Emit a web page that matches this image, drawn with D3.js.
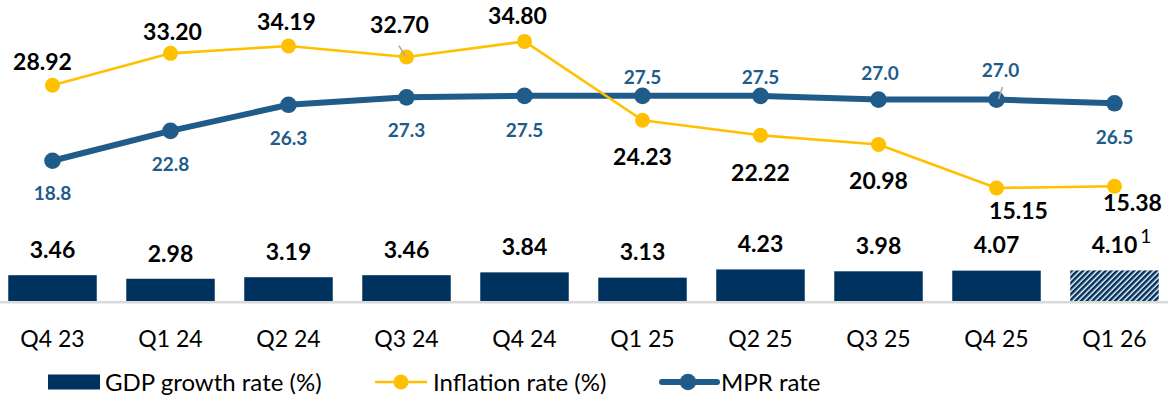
<!DOCTYPE html>
<html>
<head>
<meta charset="utf-8">
<script src="https://cdn.jsdelivr.net/npm/d3@7"></script>
<style>
  html, body { margin: 0; padding: 0; background: #ffffff; }
  svg { display: block; font-family: Lato, "Open Sans", sans-serif; }
</style>
</head>
<body>
<svg id="chart" width="1168" height="400"></svg>
<script>
// Quarterly data
const quarters = ["Q4 23", "Q1 24", "Q2 24", "Q3 24", "Q4 24", "Q1 25", "Q2 25", "Q3 25", "Q4 25", "Q1 26"];
const gdpGrowth = [3.46, 2.98, 3.19, 3.46, 3.84, 3.13, 4.23, 3.98, 4.07, 4.10];
const gdpLabels = ["3.46", "2.98", "3.19", "3.46", "3.84", "3.13", "4.23", "3.98", "4.07", "4.10"];
const gdpProjected = [false, false, false, false, false, false, false, false, false, true];
const gdpFootnote = ["", "", "", "", "", "", "", "", "", "1"];
const inflation = [28.92, 33.20, 34.19, 32.70, 34.80, 24.23, 22.22, 20.98, 15.15, 15.38];
const inflationLabels = ["28.92", "33.20", "34.19", "32.70", "34.80", "24.23", "22.22", "20.98", "15.15", "15.38"];
const mpr = [18.8, 22.8, 26.3, 27.3, 27.5, 27.5, 27.5, 27.0, 27.0, 26.5];
const mprLabels = ["18.8", "22.8", "26.3", "27.3", "27.5", "27.5", "27.5", "27.0", "27.0", "26.5"];
const legendNames = ["GDP growth rate (%)", "Inflation rate (%)", "MPR rate"];

// Label placement (offset of label centre from its point) and leader lines
const inflationLabelOffset = [[-10, -24], [2, -22], [-2, -24], [-7, -32], [-7, -26], [0, 36], [0, 37], [0, 36], [22, 23], [18, 16]];
const mprLabelOffset = [[0, 32], [0, 33], [0, 33], [0, 33], [0, 34], [0, -19], [0, -19], [1.5, -26.5], [4, -29], [0, 33.5]];
const inflationLeader = [false, false, false, true, false, false, false, false, false, false];
const mprLeader = [false, false, false, false, false, false, false, false, true, false];

const colors = { bar: "#00325f", infl: "#ffc000", mpr: "#1f5c8a", axis: "#d9d9d9", text: "#000000", leader: "#a6a6a6" };

const svg = d3.select("#chart");

const x = d3.scaleBand().domain(quarters).range([-6.5, 1173.5]).paddingInner(0.25).paddingOuter(0.125);
const cx = d => x(d) + x.bandwidth() / 2;
const y = d3.scaleLinear().domain([0, 40]).range([301, 2.6]);

// hatch pattern for the projected quarter
const defs = svg.append("defs");
const pat = defs.append("pattern")
  .attr("id", "hatch")
  .attr("patternUnits", "userSpaceOnUse")
  .attr("width", 4).attr("height", 4)
  .attr("patternTransform", "rotate(45)");
pat.append("rect").attr("width", 4).attr("height", 4).attr("fill", "#ffffff");
pat.append("rect").attr("x", 0).attr("y", 0).attr("width", 2.6).attr("height", 4).attr("fill", colors.bar);

// baseline
svg.append("line")
  .attr("x1", 0).attr("x2", 1168)
  .attr("y1", y(0) + 1.2).attr("y2", y(0) + 1.2)
  .attr("stroke", colors.axis).attr("stroke-width", 2.5);

// GDP bars
svg.append("g").selectAll("rect").data(quarters).join("rect")
  .attr("x", d => x(d))
  .attr("width", x.bandwidth())
  .attr("y", (d, i) => y(gdpGrowth[i]))
  .attr("height", (d, i) => y(0) - y(gdpGrowth[i]))
  .attr("fill", (d, i) => gdpProjected[i] ? "url(#hatch)" : colors.bar);

// GDP value labels
const gdpText = svg.append("g").selectAll("text").data(quarters).join("text")
  .attr("x", d => cx(d))
  .attr("y", (d, i) => y(gdpGrowth[i]) - 25.5)
  .attr("dy", "0.36em")
  .attr("text-anchor", "middle")
  .attr("font-size", 23).attr("font-weight", 700).attr("fill", colors.text)
  .text((d, i) => gdpLabels[i]);

// footnote markers after a value label
gdpText.each(function (d, i) {
  if (!gdpFootnote[i]) return;
  const w = this.getComputedTextLength();
  svg.append("text")
    .attr("x", cx(d) + w / 2 + 3)
    .attr("y", y(gdpGrowth[i]) - 25.5 - 9)
    .attr("dy", "0.36em")
    .attr("font-size", 19).attr("font-weight", 400).attr("fill", colors.text)
    .text(gdpFootnote[i]);
});

// x-axis labels
const xAxis = d3.axisBottom(x).tickSize(0).tickPadding(0);
const gx = svg.append("g").attr("transform", `translate(0,${y(0)})`).call(xAxis);
gx.select(".domain").remove();
gx.selectAll("text")
  .attr("font-family", "Lato, sans-serif")
  .attr("font-size", 23).attr("fill", "#000")
  .attr("y", 37.5).attr("dy", "0.36em");

// MPR line
const mprLine = d3.line().x((d, i) => cx(quarters[i])).y(d => y(d));
svg.append("path").datum(mpr)
  .attr("d", mprLine).attr("fill", "none")
  .attr("stroke", colors.mpr).attr("stroke-width", 6).attr("stroke-linejoin", "round");
svg.append("g").selectAll("circle").data(mpr).join("circle")
  .attr("cx", (d, i) => cx(quarters[i])).attr("cy", d => y(d)).attr("r", 8.3)
  .attr("fill", colors.mpr);

// Inflation line
const inflLine = d3.line().x((d, i) => cx(quarters[i])).y(d => y(d));
svg.append("path").datum(inflation)
  .attr("d", inflLine).attr("fill", "none")
  .attr("stroke", colors.infl).attr("stroke-width", 2.6).attr("stroke-linejoin", "round");
svg.append("g").selectAll("circle").data(inflation).join("circle")
  .attr("cx", (d, i) => cx(quarters[i])).attr("cy", d => y(d)).attr("r", 7.5)
  .attr("fill", colors.infl);

// leader lines
inflation.forEach((v, i) => {
  if (!inflationLeader[i]) return;
  const px = cx(quarters[i]), py = y(v);
  svg.append("line")
    .attr("x1", px - 7.5).attr("y1", py - 11.5)
    .attr("x2", px - 1.5).attr("y2", py - 1)
    .attr("stroke", colors.leader).attr("stroke-width", 1.5);
});
mpr.forEach((v, i) => {
  if (!mprLeader[i]) return;
  const px = cx(quarters[i]), py = y(v);
  svg.append("line")
    .attr("x1", px + 6).attr("y1", py - 12.5)
    .attr("x2", px + 2).attr("y2", py - 0.5)
    .attr("stroke", colors.leader).attr("stroke-width", 1.5);
});

// Inflation labels
svg.append("g").selectAll("text").data(inflation).join("text")
  .attr("x", (d, i) => cx(quarters[i]) + inflationLabelOffset[i][0])
  .attr("y", (d, i) => y(d) + inflationLabelOffset[i][1])
  .attr("dy", "0.36em")
  .attr("text-anchor", "middle")
  .attr("font-size", 23).attr("font-weight", 700).attr("fill", colors.text)
  .text((d, i) => inflationLabels[i]);

// MPR labels
svg.append("g").selectAll("text").data(mpr).join("text")
  .attr("x", (d, i) => cx(quarters[i]) + mprLabelOffset[i][0])
  .attr("y", (d, i) => y(d) + mprLabelOffset[i][1])
  .attr("dy", "0.36em")
  .attr("text-anchor", "middle")
  .attr("font-size", 19).attr("font-weight", 700).attr("fill", colors.mpr)
  .text((d, i) => mprLabels[i]);

// Legend
const lg = svg.append("g").attr("font-size", 24).attr("fill", "#000");
const ly = 382;
lg.append("rect").attr("x", 48).attr("y", ly - 7.5).attr("width", 52).attr("height", 15).attr("fill", colors.bar);
lg.append("text").attr("x", 105).attr("y", ly).attr("dy", "0.36em").text(legendNames[0]);

lg.append("line").attr("x1", 375).attr("x2", 427).attr("y1", ly).attr("y2", ly)
  .attr("stroke", colors.infl).attr("stroke-width", 2.6);
lg.append("circle").attr("cx", 401).attr("cy", ly).attr("r", 7.5).attr("fill", colors.infl);
lg.append("text").attr("x", 433).attr("y", ly).attr("dy", "0.36em").text(legendNames[1]);

lg.append("line").attr("x1", 662).attr("x2", 717).attr("y1", ly).attr("y2", ly)
  .attr("stroke", colors.mpr).attr("stroke-width", 6).attr("stroke-linecap", "round");
lg.append("circle").attr("cx", 688).attr("cy", ly).attr("r", 8.3).attr("fill", colors.mpr);
lg.append("text").attr("x", 721).attr("y", ly).attr("dy", "0.36em").text(legendNames[2]);
</script>
</body>
</html>
